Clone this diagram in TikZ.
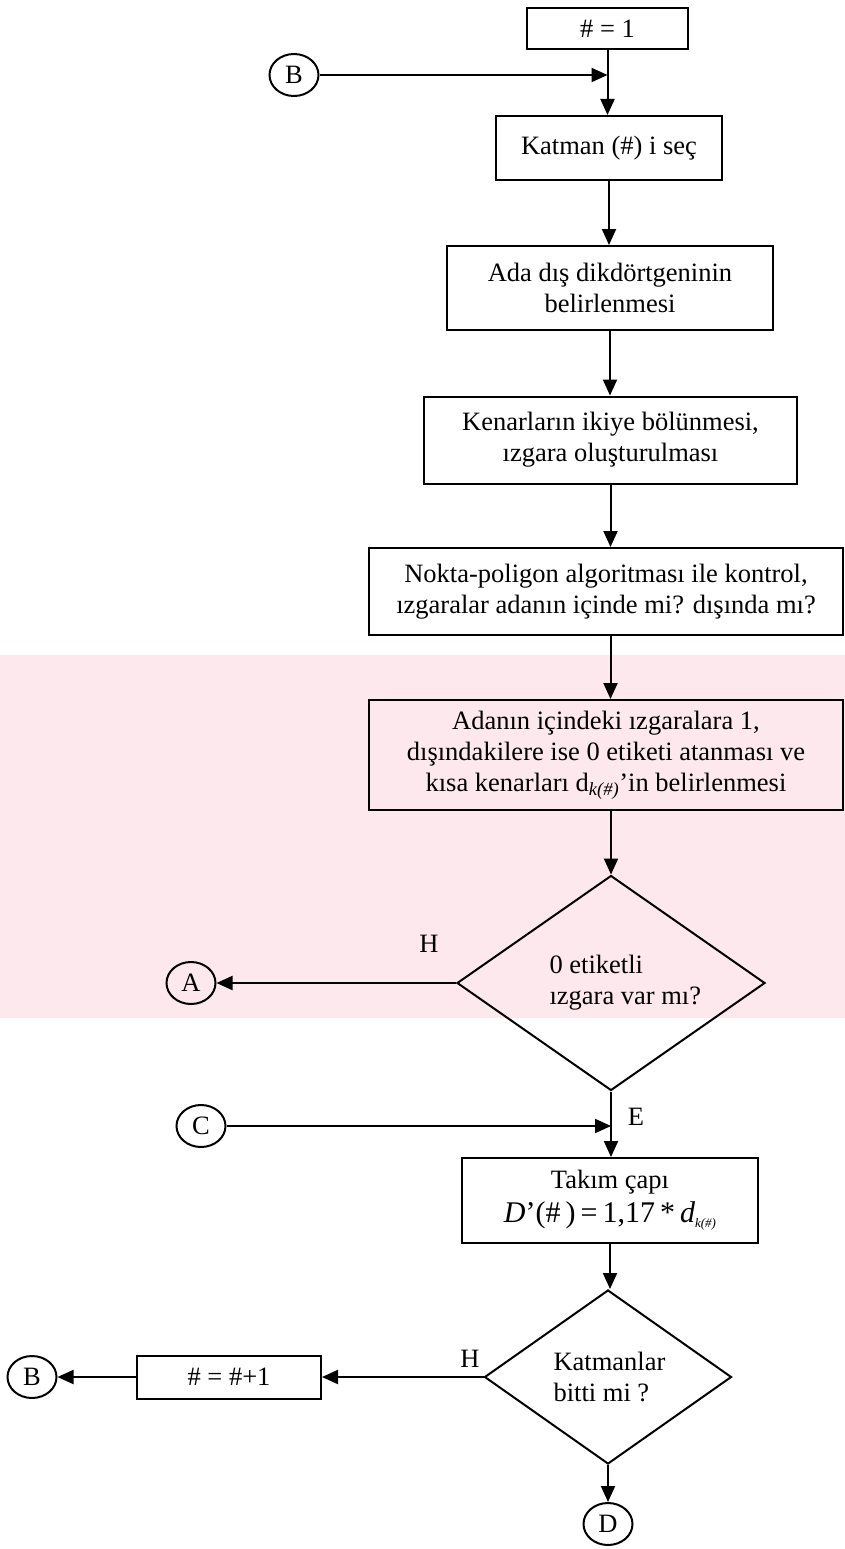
\documentclass[tikz,border=0pt]{standalone}
\usepackage{fontspec}
\setmainfont{Liberation Serif}
\usetikzlibrary{shapes.geometric,arrows.meta,positioning}

\definecolor{filigran}{RGB}{252,232,237}
\newcommand{\yazi}{\fontsize{26.5}{31}\selectfont}

\begin{document}
\begin{tikzpicture}[x=1pt,y=-1pt,
    every node/.style={font=\yazi},
    islem/.style={draw, line width=2pt, rectangle, align=center, inner sep=0pt},
    karar/.style={draw, line width=2pt, diamond, inner sep=0pt},
    baglanti/.style={draw, line width=2pt, ellipse, inner sep=0pt,
        minimum width=49pt, minimum height=42pt},
    ok/.style={-{Triangle[length=16pt,width=14pt]}, line width=2pt}]
\useasboundingbox (0,0) rectangle (845,1549);

% soluk zemin deseni
\fill[filigran] (0,655) rectangle (845,1018);

% kutular
\node[islem, minimum width=161pt, minimum height=41pt] (b1) at (607.5,28.5) {\# = 1};
\node[islem, minimum width=226pt, minimum height=64pt] (b2) at (609,148) {Katman (\#) i seç};
\node[islem, minimum width=326pt, minimum height=84pt] (b3) at (610,288)
    {Ada dış dikdörtgeninin\\belirlenmesi};
\node[islem, minimum width=373pt, minimum height=87pt] (b4) at (610.5,440)
    {Kenarların ikiye bölünmesi,\\ızgara oluşturulması};
\node[islem, minimum width=474pt, minimum height=87pt] (b5) at (606,591.5)
    {Nokta-poligon algoritması ile kontrol,\\ızgaralar adanın içinde mi? dışında mı?};
\node[islem, minimum width=474pt, minimum height=110pt] (b6) at (606,755)
    {Adanın içindeki ızgaralara 1,\\dışındakilere ise 0 etiketi atanması ve\\
     kısa kenarları d\textsubscript{\itshape k(\#)}’in belirlenmesi};
\node[karar, minimum width=308pt, minimum height=215pt] (q1) at (611,983) {};
\node[align=left, anchor=west] at (546,983) {0 etiketli\\ızgara var mı?};
\node[islem, minimum width=296pt, minimum height=85pt] (b7) at (610,1200.5)
    {Takım çapı\\[3pt]{\fontsize{30}{34}\selectfont\textit{D}’(\#\,)\,=\,1,17\,*\,\textit{d}\raisebox{-5pt}{\fontsize{13}{13}\selectfont\textit{k(\#)}}}};
\node[karar, minimum width=247pt, minimum height=174pt] (q2) at (608,1377) {};
\node[align=left, anchor=west] at (550,1377) {Katmanlar\\bitti mi ?};
\node[islem, minimum width=184pt, minimum height=43pt] (b8) at (229,1377) {\# = \#+1};

% baglanti daireleri
\node[baglanti] (B1) at (294,75) {B};
\node[baglanti] (A) at (191,983) {A};
\node[baglanti] (C) at (201,1126) {C};
\node[baglanti] (B2) at (32,1377) {B};
\node[baglanti] (D) at (608,1524) {D};

% etiketler
\node (h1) at (429,944) {H};
\node (e1) at (636,1117) {E};
\node (h2) at (470,1359) {H};

% oklar
\coordinate (j1) at (b1.south |- B1);
\coordinate (j2) at (q1.south |- C);
\draw[ok] (b1.south) -- (b1.south |- b2.north);
\draw[ok] (B1) -- (j1);
\draw[ok] (b2.south) -- (b2.south |- b3.north);
\draw[ok] (b3.south) -- (b3.south |- b4.north);
\draw[ok] (b4.south) -- (b4.south |- b5.north);
\draw[ok] (b4.south |- b5.south) -- (b4.south |- b6.north);
\draw[ok] (q1.north |- b6.south) -- (q1.north);
\draw[ok] (q1.west) -- (A);
\draw[ok] (q1.south) -- (q1.south |- b7.north);
\draw[ok] (C) -- (j2);
\draw[ok] (b7.south) -- (b7.south |- q2.north);
\draw[ok] (q2.west) -- (b8);
\draw[ok] (b8) -- (B2);
\draw[ok] (q2.south) -- (D);
\end{tikzpicture}
\end{document}
